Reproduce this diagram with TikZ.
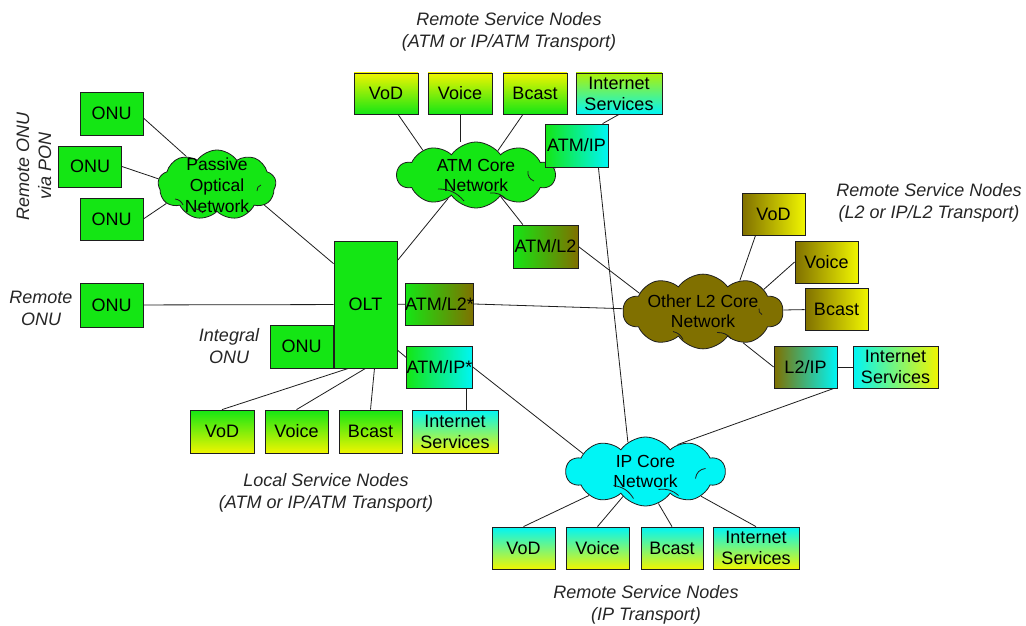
\documentclass[tikz,border=0pt]{standalone}
\usepackage{fontspec}
\setmainfont{Liberation Sans}
\usetikzlibrary{shapes.symbols,calc}
\definecolor{cgreen}{RGB}{20,230,20}
\definecolor{cyel}{RGB}{240,245,0}
\definecolor{ccyan}{RGB}{0,245,245}
\definecolor{colive}{RGB}{128,112,0}
\definecolor{cline}{RGB}{30,30,30}
\tikzset{
  nbox/.style={draw=cline, line width=0.8pt, minimum width=63pt, minimum height=42pt,
    inner sep=0pt, align=center, font=\fontsize{18}{21}\selectfont},
  wbox/.style={nbox, minimum width=86pt},
  gbox/.style={nbox, fill=cgreen},
  cnet/.style={cloud, draw=cline, line width=0.8pt, cloud puffs=10, cloud puff arc=110,
    inner xsep=-8pt, inner ysep=-9pt, align=center, font=\fontsize{17.5}{20}\selectfont},
  lbl/.style={align=center, font=\fontsize{18}{22}\selectfont\itshape, text=black!85},
  conn/.style={draw=cline, line width=0.8pt},
  inarc/.style={draw=cline, line width=0.8pt},
}
\begin{document}
\begin{tikzpicture}[x=1pt,y=-1pt]
\useasboundingbox (0,0) rectangle (1026,626);
\fill[white] (0,0) rectangle (1026,626);

% ---------- clouds
\node[cnet, fill=cgreen, cloud puffs=9, aspect=1.7, minimum width=118pt, minimum height=70pt, font=\fontsize{17.5}{21}\selectfont] (pon) at (217,185) {Passive\\Optical\\Network};
\node[cnet, fill=cgreen, aspect=2.4, minimum width=158pt, minimum height=66pt] (atmcore) at (476,175) {ATM Core\\Network};
\node[cnet, fill=colive, aspect=2.4, minimum width=160pt, minimum height=67pt] (l2core) at (703,311.5) {Other L2 Core\\Network};
\node[cnet, fill=ccyan, aspect=2.3, minimum width=159pt, minimum height=69pt] (ipcore) at (645.5,471.5) {IP Core\\Network};

% inner strokes of the cloud clip-art
\draw[inarc] ($(pon)+(-42,14)$) to[bend left=30] ($(pon)+(-34,20)$);
\draw[inarc] ($(pon)+(-24,24)$) to[bend left=30] ($(pon)+(-14,28)$);
\draw[inarc] ($(pon)+(40,6)$) to[bend left=40] ($(pon)+(44,0)$);
\draw[inarc] ($(atmcore)+(-38,14)$) to[bend left=25] ($(atmcore)+(-12,26)$);
\draw[inarc] ($(atmcore)+(14,18)$) to[bend left=25] ($(atmcore)+(30,24)$);
\draw[inarc] ($(atmcore)+(52,-4)$) to[bend right=40] ($(atmcore)+(58,6)$);
\draw[inarc] ($(l2core)+(-30,20)$) to[bend left=25] ($(l2core)+(-20,28)$);
\draw[inarc] ($(l2core)+(14,21)$) to[bend left=25] ($(l2core)+(28,27)$);
\draw[inarc] ($(l2core)+(56,-3)$) to[bend right=40] ($(l2core)+(59,3)$);
\draw[inarc] ($(ipcore)+(-32,14)$) to[bend left=25] ($(ipcore)+(-12,27)$);
\draw[inarc] ($(ipcore)+(13,18)$) to[bend left=25] ($(ipcore)+(33,24)$);
\draw[inarc] ($(ipcore)+(50,7)$) to[bend left=40] ($(ipcore)+(60,-3)$);

% ---------- left ONUs
\node[gbox, minimum height=43pt] (onu1) at (111.5,113.5) {ONU};
\node[gbox, minimum height=41pt] (onu2) at (90,166.5) {ONU};
\node[gbox] (onu3) at (111.5,219) {ONU};
\node[gbox, minimum height=44pt] (ronu) at (111.5,305) {ONU};
\node[gbox, minimum height=127pt] (olt) at (365.5,304.5) {OLT};
\node[gbox, minimum height=43pt] (ionu) at (301.5,346.5) {ONU};

% ---------- adapters
\node[nbox, left color=cgreen, right color=colive] (atml2s) at (439.5,304) {ATM/L2*};
\node[nbox, left color=cgreen, right color=ccyan] (atmips) at (439.5,367) {ATM/IP*};
\node[nbox, left color=cgreen, right color=ccyan, minimum height=43pt] (atmip) at (576.5,145.5) {ATM/IP};
\node[nbox, left color=cgreen, right color=colive, minimum width=65pt, minimum height=43pt] (atml2) at (545.5,246.5) {ATM/L2};
\node[nbox, left color=colive, right color=ccyan] (l2ip) at (805.5,367) {L2/IP};

% ---------- local service nodes
\node[nbox, top color=cgreen, bottom color=cyel, minimum width=64pt, minimum height=43pt] (lvod) at (222,431.5) {VoD};
\node[nbox, top color=cgreen, bottom color=cyel, minimum height=43pt] (lvoice) at (296.5,431.5) {Voice};
\node[nbox, top color=cgreen, bottom color=cyel, minimum height=43pt] (lbcast) at (370.5,431.5) {Bcast};
\node[wbox, top color=ccyan, bottom color=cyel, minimum height=43pt] (linet) at (455,431.5) {Internet\\Services};

% ---------- top service nodes
\node[nbox, top color=cyel, bottom color=cgreen, minimum width=64pt, minimum height=41pt] (tvod) at (386,93.5) {VoD};
\node[nbox, top color=cyel, bottom color=cgreen, minimum width=64pt, minimum height=41pt] (tvoice) at (460,93.5) {Voice};
\node[nbox, top color=cyel, bottom color=cgreen, minimum width=64pt, minimum height=41pt] (tbcast) at (535,93.5) {Bcast};
\node[wbox, top color=cyel!70!cgreen, bottom color=ccyan, minimum height=41pt] (tinet) at (619,93.5) {Internet\\Services};

% ---------- right service nodes
\node[nbox, left color=colive, right color=cyel] (rvod) at (773.5,214) {VoD};
\node[nbox, left color=colive, right color=cyel] (rvoice) at (826.5,262) {Voice};
\node[nbox, left color=colive, right color=cyel] (rbcast) at (836.5,309) {Bcast};
\node[wbox, left color=ccyan, right color=cyel, minimum width=85pt] (rinet) at (895.5,367) {Internet\\Services};

% ---------- bottom service nodes
\node[nbox, top color=ccyan, bottom color=cyel] (bvod) at (523.5,548) {VoD};
\node[nbox, top color=ccyan, bottom color=cyel] (bvoice) at (597.5,548) {Voice};
\node[nbox, top color=ccyan, bottom color=cyel, minimum width=62pt] (bbcast) at (672,548) {Bcast};
\node[wbox, top color=ccyan, bottom color=cyel] (binet) at (756,548) {Internet\\Services};

% ---------- labels
\node[lbl] (l1) at (509,32) {Remote Service Nodes\\(ATM or IP/ATM Transport)};
\node[lbl] (l2) at (929,202.5) {Remote Service Nodes\\(L2 or IP/L2 Transport)};
\node[lbl] (l3) at (326,493) {Local Service Nodes\\(ATM or IP/ATM Transport)};
\node[lbl] (l4) at (646,605) {Remote Service Nodes\\(IP Transport)};
\node[lbl] (l5) at (41,308) {Remote\\ONU};
\node[lbl] (l6) at (229,346) {Integral\\ONU};
\node[lbl, rotate=90] (l7) at (34,166) {Remote ONU\\via PON};

% ---------- connectors
\draw[conn] (onu1.-8) -- (pon.137);
\draw[conn] (onu2.east) -- (pon.174);
\draw[conn] (onu3.east) -- (pon.200);
\draw[conn] (pon.-23) -- (olt.128);
\draw[conn] (ronu) -- (olt);
\draw[conn] (olt.54) -- (atmcore.220);
\draw[conn] (olt) -- (atml2s);
\draw[conn] (olt.-55) -- (atmips.164);
\draw[conn] (olt.255) -- (lvod.north);
\draw[conn] (olt.south) -- (lvoice.north);
\draw[conn] (olt.-82) -- (lbcast.north);
\draw[conn] (atmips.-39.5) -- (atmips.-39.5 |- linet.north);
\draw[conn] (atmips.east) -- (ipcore.164);
\draw[conn] (atml2s.east) -- (l2core.178);
\draw[conn] (tvod.-60) -- (atmcore.155);
\draw[conn] (tvoice.south) -- (tvoice.south |- atmcore.north);
\draw[conn] (tbcast.240) -- (atmcore.48);
\draw[conn] (tinet.south) -- (atmip.40);
\draw[conn] (atmip.228) -- (atmcore.5);
\draw[conn] (atmip.-45) -- (ipcore.121.5);
\draw[conn] (atmcore.-41) -- (atml2.136);
\draw[conn] (atml2.east) -- (l2core.164);
\draw[conn] (rvod.230) -- (l2core.40);
\draw[conn] (rvoice.west) -- (l2core.20);
\draw[conn] (l2core) -- (rbcast);
\draw[conn] (l2core.-38) -- (l2ip.west);
\draw[conn] (l2ip) -- (rinet);
\draw[conn] (l2ip.-37.4) -- (ipcore.40);
\draw[conn] (ipcore.203) -- (bvod.north);
\draw[conn] (ipcore.228.5) -- (bvoice.north);
\draw[conn] (ipcore.-68) -- (bbcast.north);
\draw[conn] (ipcore.-24.5) -- (binet.north);
\end{tikzpicture}
\end{document}
